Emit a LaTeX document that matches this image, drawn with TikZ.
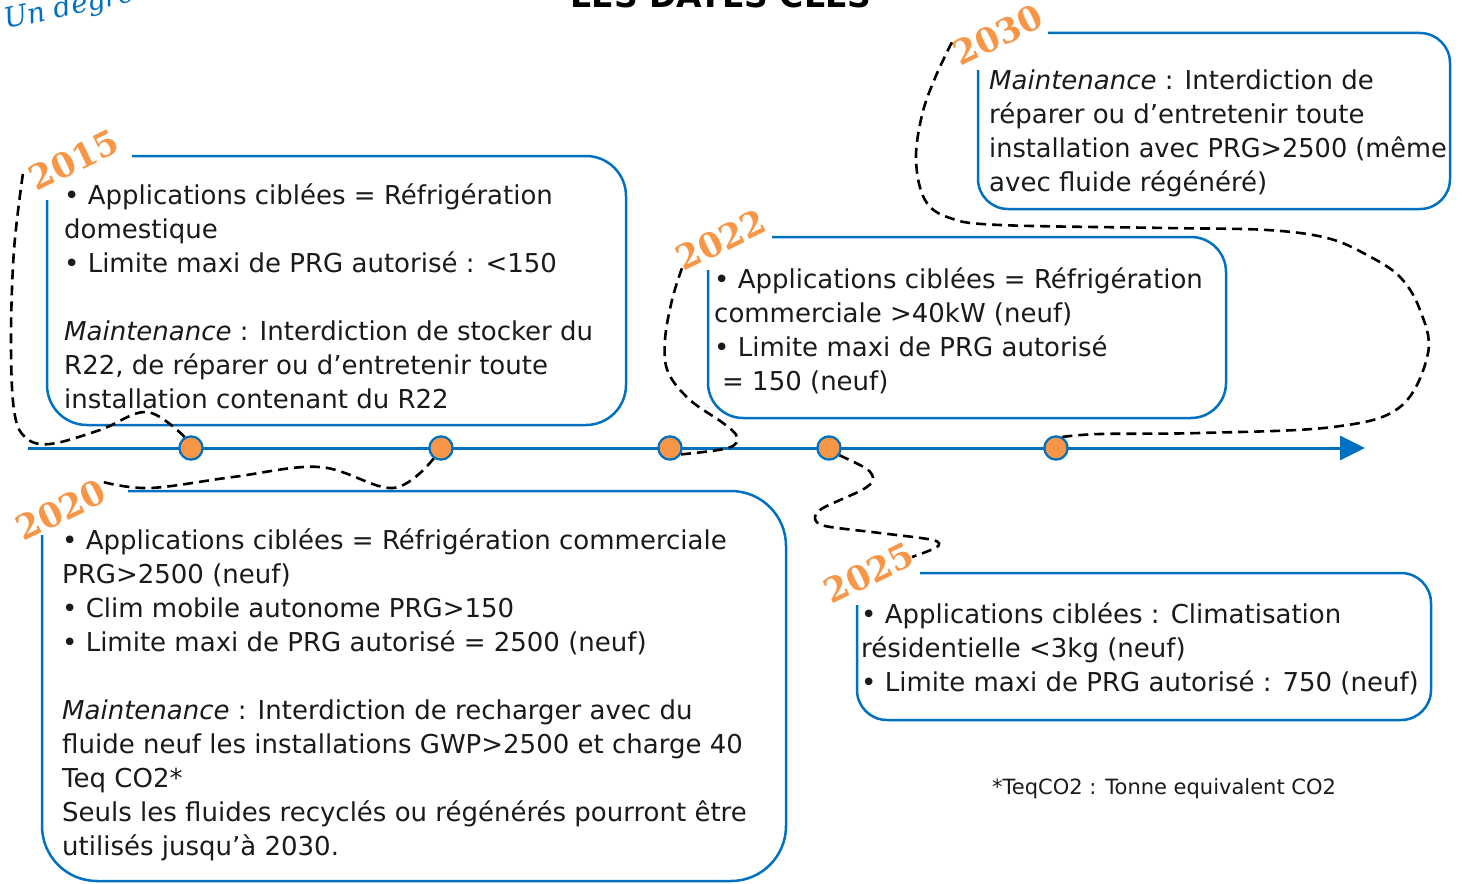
\documentclass[tikz,border=0pt]{standalone}
\usepackage{fontspec}
\setmainfont{DejaVu Sans}
\newfontfamily\yearfont{DejaVu Serif}
\newfontfamily\handfont{DejaVu Serif}
\usetikzlibrary{arrows.meta}
\definecolor{tlblue}{HTML}{0070C0}
\definecolor{tlorange}{HTML}{F79646}
\definecolor{ink}{HTML}{1A1A1A}
\begin{document}
\begin{tikzpicture}[x=1pt,y=-1pt,
  box/.style={draw=tlblue, line width=2.5pt},
  txt/.style={anchor=north west, inner sep=0pt, align=left, text=ink,
              font=\fontsize{26}{34}\selectfont},
  year/.style={text=tlorange, font=\yearfont\bfseries\fontsize{34}{34}\selectfont,
               inner sep=0pt, rotate=26},
  dot/.style={circle, fill=tlorange, draw=tlblue, line width=2.5pt,
              minimum size=23pt, inner sep=0pt},
  conn/.style={black, line width=2.6pt, dash pattern=on 10pt off 6pt},
  axis/.style={draw=tlblue, line width=3pt, -{Triangle[length=25pt,width=24pt]}},
]
\useasboundingbox (0,0) rectangle (1463,883);
\clip (0,0) rectangle (1463,883);

% header pieces
\node[anchor=base west, inner sep=0pt, rotate=12, text=tlblue,
      font=\handfont\itshape\fontsize{28}{28}\selectfont] (brand) at (6,29) {Un degré d};
\node[anchor=base, inner sep=0pt, text=black,
      font=\bfseries\fontsize{33}{33}\selectfont] (title) at (721,8) {LES DATES CLÉS};

% box outlines (the top-left corner is left open for the year)
\draw[box, rounded corners=40pt] (132,156) -- (626,156) -- (626,425) -- (47,425) -- (47,200);
\draw[box, rounded corners=35pt] (772,237) -- (1226,237) -- (1226,418) -- (708,418) -- (708,270);
\draw[box, rounded corners=30pt] (1048,33) -- (1450,33) -- (1450,209) -- (978,209) -- (978,70);
\draw[box, rounded corners=55pt] (128,491) -- (786,491) -- (786,881) -- (42,881) -- (42,535);
\draw[box, rounded corners=30pt] (920,573) -- (1431,573) -- (1431,720) -- (857,720) -- (857,605);

% timeline
\coordinate (tstart) at (28,448);
\coordinate (tend) at (1365,448);
\draw[axis] (tstart) -- (tend);

% milestones
\node[dot] (d2015) at (191,448) {};
\node[dot] (d2020) at (441,448) {};
\node[dot] (d2022) at (670,448) {};
\node[dot] (d2025) at (829,448) {};
\node[dot] (d2030) at (1056,448) {};

% year labels
\node[year] (y2015) at (74,160) {2015};
\node[year] (y2020) at (61,510) {2020};
\node[year] (y2022) at (721,240) {2022};
\node[year] (y2025) at (869,573) {2025};
\node[year] (y2030) at (998,35) {2030};

% dashed leaders from each milestone to its year
\draw[conn] plot[smooth, tension=0.6] coordinates {(d2015.120) (147,412) (100,430) (50,444) (25,437) (14,410) (11,340) (14,250) (23,173)};
\draw[conn] plot[smooth, tension=0.6] coordinates {(d2020.235) (393,488) (320,467) (233,477) (150,488) (103,482)};
\draw[conn] plot[smooth, tension=0.6] coordinates {(d2022.-30) (728,448) (737,437) (723,423) (690,400) (668,372) (665,340) (672,300) (682,268)};
\draw[conn] plot[smooth, tension=0.5] coordinates {(d2025.-35) (867,469) (873,480) (862,490) (823,508) (815,518) (825,526) (880,533) (933,540) (937,547) (912,557)};
\draw[conn] plot[smooth, tension=0.6] coordinates {(d2030.60) (1100,434) (1200,433) (1333,427) (1400,407) (1428,353) (1420,310) (1400,277) (1367,255) (1327,238) (1267,230) (1167,228) (1000,225) (950,218) (925,200) (916,160) (922,115) (935,78) (952,42)};

% milestone fills kept above the leaders
\foreach \d in {d2015,d2020,d2022,d2025,d2030}
  \fill[tlorange] (\d) circle (10.3pt);

% box texts
\node[txt] (t2015) at (64,180) {\strut • Applications ciblées = Réfrigération\\
domestique\\
• Limite maxi de PRG autorisé : <150\\[34pt]
\textit{Maintenance} : Interdiction de stocker du\\
R22, de réparer ou d’entretenir toute\\
installation contenant du R22};

\node[txt] (t2022) at (714,264) {\strut • Applications ciblées = Réfrigération\\
commerciale >40kW (neuf)\\
• Limite maxi de PRG autorisé\\
\hspace*{8pt}= 150 (neuf)};

\node[txt] (t2030) at (989,65) {\strut\textit{Maintenance} : Interdiction de\\
réparer ou d’entretenir toute\\
\scalebox{0.985}[1]{installation avec PRG>2500 (même}\\
avec fluide régénéré)};

\node[txt] (t2020) at (62,525) {\strut • Applications ciblées = Réfrigération commerciale\\
PRG>2500 (neuf)\\
• Clim mobile autonome PRG>150\\
• Limite maxi de PRG autorisé = 2500 (neuf)\\[34pt]
\textit{Maintenance} : Interdiction de recharger avec du\\
fluide neuf les installations GWP>2500 et charge 40\\
Teq CO2*\\
Seuls les fluides recyclés ou régénérés pourront être\\
utilisés jusqu’à 2030.};

\node[txt] (t2025) at (861,599) {\strut • Applications ciblées : Climatisation\\
résidentielle <3kg (neuf)\\
• Limite maxi de PRG autorisé : 750 (neuf)};

\node[anchor=base west, inner sep=0pt, text=ink, font=\fontsize{21}{21}\selectfont]
  (note) at (992,794) {*TeqCO2 : Tonne equivalent CO2};
\end{tikzpicture}
\end{document}
